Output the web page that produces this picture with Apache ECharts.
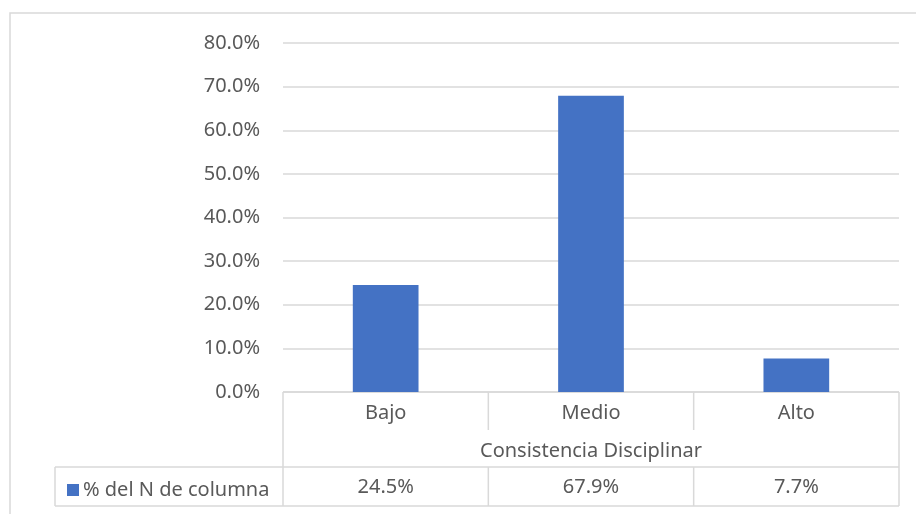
<!DOCTYPE html>
<html>
<head>
<meta charset="utf-8">
<script src="https://cdn.jsdelivr.net/npm/echarts@6/dist/echarts.min.js"></script>
<style>
  html, body { margin: 0; padding: 0; background: #fff; }
  #chart { width: 916px; height: 514px; }
</style>
</head>
<body>
<div id="chart"></div>
<script>
// datos
const categories = ["Bajo", "Medio", "Alto"];
const values = [24.5, 67.9, 7.7];
const seriesName = "% del N de columna";
const axisTitle = "Consistencia Disciplinar";

const gray = "#595959";
const lineColor = "#d9d9d9";
const font = "Noto Sans";
const fs = 20;

// layout del area de trazado
const gLeft = 283, gRight = 899, gTop = 43, gBottom = 392;
const rowMid = 467, rowEnd = 506, legendLeft = 55;

const chart = echarts.init(document.getElementById("chart"));

// lineas de la tabla de datos (bajo el eje)
function tableLines() {
  const band = (gRight - gLeft) / categories.length;
  const st = { stroke: lineColor, lineWidth: 1.5 };
  const ln = (x1, y1, x2, y2) => ({ type: "line", silent: true, shape: { x1, y1, x2, y2 }, style: st });
  const out = [
    // marco del grafico
    { type: "rect", silent: true, shape: { x: 10, y: 13, width: 930, height: 520 }, style: { fill: null, stroke: lineColor, lineWidth: 1.5 } },
    ln(gLeft, gBottom, gRight, gBottom),
    ln(legendLeft, rowMid, gRight, rowMid),
    ln(legendLeft, rowEnd, gRight, rowEnd),
    ln(legendLeft, rowMid, legendLeft, rowEnd),
    ln(gLeft, gBottom, gLeft, rowEnd),
    ln(gRight, gBottom, gRight, rowEnd),
  ];
  for (let i = 1; i < categories.length; i++) {
    const x = gLeft + band * i;
    out.push(ln(x, gBottom, x, gBottom + 38));
    out.push(ln(x, rowMid, x, rowEnd));
  }
  return out;
}

let option = {
  animation: false,
  textStyle: { fontFamily: font },
  grid: { left: gLeft, right: 916 - gRight, top: gTop, bottom: 514 - gBottom, containLabel: false },
  legend: {
    data: [seriesName],
    left: 62,
    top: 475,
    icon: "rect",
    itemWidth: 12,
    itemHeight: 12,
    itemGap: 5,
    textStyle: { color: gray, fontSize: fs, fontFamily: font, padding: [0, 0, 0, -1] },
  },
  xAxis: [
    {
      type: "category",
      data: categories,
      axisLine: { show: false },
      axisTick: { show: false },
      axisLabel: { color: gray, fontSize: fs, margin: 11 },
      name: axisTitle,
      nameLocation: "middle",
      nameGap: 49,
      nameTextStyle: { color: gray, fontSize: fs },
    },
    {
      type: "category",
      data: categories,
      position: "bottom",
      offset: rowMid - gBottom,
      axisLine: { show: false },
      axisTick: { show: false },
      axisLabel: {
        color: gray,
        fontSize: fs,
        margin: 10,
        formatter: (v, i) => values[i].toFixed(1) + "%",
      },
    },
  ],
  yAxis: {
    type: "value",
    min: 0,
    max: 80,
    interval: 10,
    axisLine: { show: false },
    axisTick: { show: false },
    axisLabel: { color: gray, fontSize: fs, margin: 23, formatter: (v) => v.toFixed(1) + "%" },
    splitLine: { lineStyle: { color: lineColor, width: 1.5 } },
  },
  series: [
    {
      name: seriesName,
      type: "bar",
      data: values,
      barWidth: "32%",
      itemStyle: { color: "#4472C4" },
    },
  ],
  graphic: tableLines(),
};

chart.setOption(option);
</script>
</body>
</html>
